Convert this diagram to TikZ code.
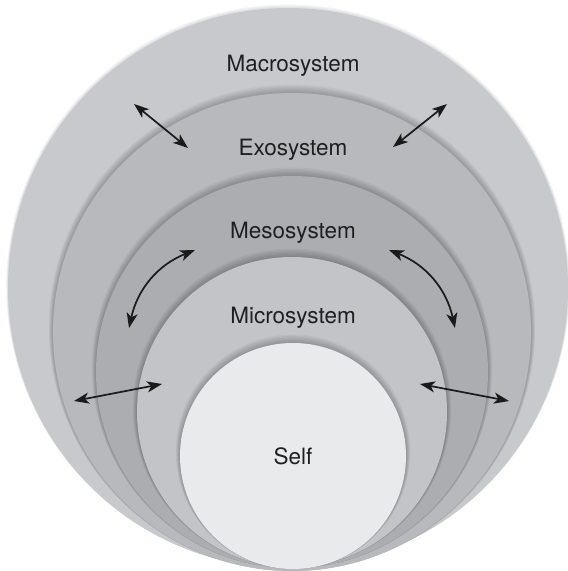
\documentclass[tikz,border=0pt]{standalone}
\usepackage{fontspec}
\setmainfont{TeX Gyre Heros}
\usetikzlibrary{arrows.meta}
\definecolor{macroC}{HTML}{C8C9CC}
\definecolor{exoC}{HTML}{B8B9BC}
\definecolor{mesoC}{HTML}{ACADB0}
\definecolor{microC}{HTML}{C3C4C7}
\definecolor{selfC}{HTML}{E9EAEC}
\definecolor{arrowC}{HTML}{1A1A1A}
\tikzset{
  lbl/.style={inner sep=0pt, anchor=base, text=black!88,
    font=\fontsize{22.5}{25}\selectfont},
  biarrow/.style={draw=arrowC, line width=1.7pt,
    {Stealth[length=15pt,width=11pt,inset=4pt]}-{Stealth[length=15pt,width=11pt,inset=4pt]}},
  shade1/.style={fill=black, fill opacity=0.04, draw=none}
}
\newcommand{\ringshadow}[3]{%
  \foreach \k in {1,...,6}{%
    \fill[shade1] (#1,#2-0.7*\k) circle[radius=#3pt+0.7pt*\k];
  }%
}
\begin{document}
\begin{tikzpicture}[x=1pt,y=-1pt]
\useasboundingbox (0,0) rectangle (568,571);
\fill[white] (0,0) rectangle (568,571);
% outer (macro)
\foreach \k in {1,...,3}{\fill[shade1] (288,288-0.6*\k) circle[radius=280pt+0.6pt*\k];}
\fill[macroC] (288,288) circle[radius=280pt];
% exo
\ringshadow{292}{332}{239}
\fill[exoC] (292,332) circle[radius=239pt];
% meso
\ringshadow{292}{372}{196}
\fill[mesoC] (292,372) circle[radius=196pt];
% micro
\ringshadow{292}{412}{155}
\fill[microC] (292,412) circle[radius=155pt];
% self
\ringshadow{293}{456}{113}
\fill[selfC] (293,456) circle[radius=113pt];

% labels
\node[lbl] (macro) at (293,71.5) {Macrosystem};
\node[lbl] (exo) at (293,155) {Exosystem};
\node[lbl] (meso) at (293,238) {Mesosystem};
\node[lbl] (micro) at (293,323.5) {Microsystem};
\node[lbl] (self) at (293,464.5) {Self};

% arrow endpoints
\coordinate (a1s) at (134,104);
\coordinate (a1e) at (188,148);
\coordinate (a2s) at (393,147);
\coordinate (a2e) at (447,104);
\coordinate (a3s) at (195,250);
\coordinate (a3e) at (129,328);
\coordinate (a4s) at (389,250);
\coordinate (a4e) at (455,328);
\coordinate (a5s) at (74,401);
\coordinate (a5e) at (162,384);
\coordinate (a6s) at (420,384);
\coordinate (a6e) at (509,401);

\draw[biarrow] (a1s) -- (a1e);
\draw[biarrow] (a2s) -- (a2e);
\draw[biarrow] (a3s) to[bend right=28] (a3e);
\draw[biarrow] (a4s) to[bend left=28] (a4e);
\draw[biarrow] (a5s) -- (a5e);
\draw[biarrow] (a6s) -- (a6e);
\end{tikzpicture}
\end{document}
